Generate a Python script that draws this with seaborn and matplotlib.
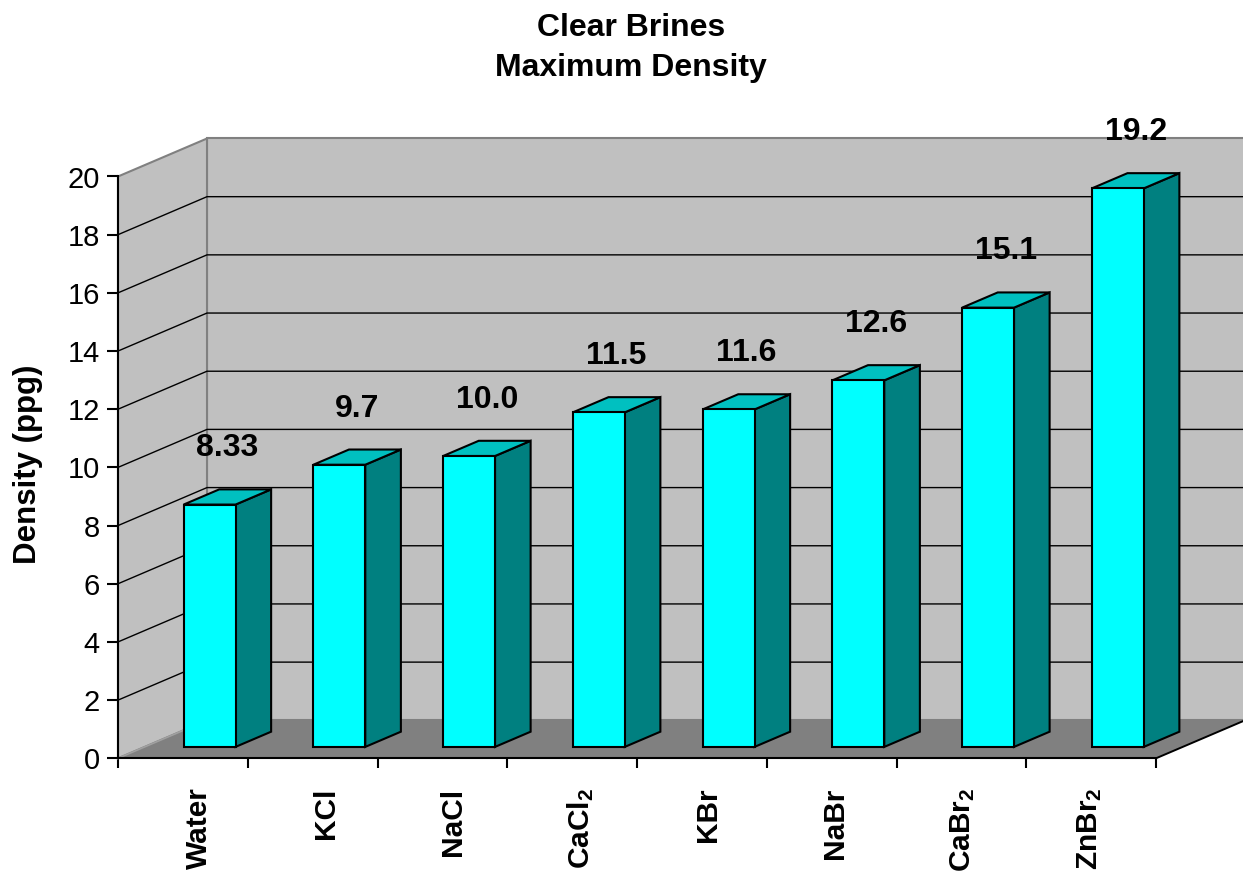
import numpy as np
import pandas as pd
import matplotlib
matplotlib.use("Agg")
import matplotlib.pyplot as plt
from matplotlib.patches import Polygon
from matplotlib.transforms import Affine2D
import seaborn as sns

# ---- data ----
categories = ["Water", "KCl", "NaCl", "CaCl$_2$", "KBr", "NaBr", "CaBr$_2$", "ZnBr$_2$"]
densities = [8.33, 9.7, 10.0, 11.5, 11.6, 12.6, 15.1, 19.2]
y_ticks = [0, 2, 4, 6, 8, 10, 12, 14, 16, 18, 20]
title_lines = ["Clear Brines", "Maximum Density"]
y_label = "Density (ppg)"

sns.set_theme(style="white")
plt.rcParams["font.family"] = ["Liberation Sans", "DejaVu Sans"]
plt.rcParams["mathtext.fontset"] = "custom"
plt.rcParams["mathtext.rm"] = "Liberation Sans:bold"
plt.rcParams["mathtext.default"] = "rm"
plt.rcParams["text.color"] = "black"
plt.rcParams["axes.labelcolor"] = "black"

W, H = 1243, 871
fig = plt.figure(figsize=(W / 100, H / 100), dpi=100)
fig.patch.set_facecolor("white")

# front plane of the 3-D box (pixels)
px0, px1 = 118, 1156
py0, py1 = 758.3, 176.5
ax = fig.add_axes([px0 / W, 1 - py0 / H, (px1 - px0) / W, (py0 - py1) / H])
ax.set_facecolor("none")

n = len(categories)
ymax = y_ticks[-1]
# depth vector of the box expressed in data units
DX = 89 / ((px1 - px0) / n)
DY = 38 / ((py0 - py1) / ymax)
F0, F1 = 0.3, 0.7  # bar depth range as fraction of box depth

WALL = "#C0C0C0"
FLOOR = "#808080"
EDGE = "#808080"

# bars (front faces) through seaborn
df = pd.DataFrame({"brine": categories, "density": densities})
sns.barplot(data=df, x="brine", y="density", color="#00FFFF", saturation=1,
            width=0.4, edgecolor="black", linewidth=1.5, ax=ax, zorder=3)
bars = list(ax.patches)

ax.set_xlim(-0.5, n - 0.5)
ax.set_ylim(0, ymax)
ax.set_xlabel("")
ax.set_ylabel("")

lo, hi = -0.5, n - 0.5

# back wall, left wall, floor
back = Polygon([(lo + DX, DY), (hi + DX, DY), (hi + DX, ymax + DY), (lo + DX, ymax + DY)],
               closed=True, fc=WALL, ec=EDGE, lw=1.5, zorder=0.5, clip_on=False)
left = Polygon([(lo, 0), (lo + DX, DY), (lo + DX, ymax + DY), (lo, ymax)],
               closed=True, fc=WALL, ec=EDGE, lw=1.5, zorder=0.6, clip_on=False)
floor = Polygon([(lo, 0), (hi, 0), (hi + DX, DY), (lo + DX, DY)],
                closed=True, fc=FLOOR, ec="none", lw=0, zorder=0.9, clip_on=False)
for p in (back, left, floor):
    ax.add_patch(p)
# left edge of the floor
ax.plot([lo, lo + DX], [0, DY], color="#A0A0A0", lw=1.2, zorder=0.95, clip_on=False)

# gridlines on left and back walls
for v in y_ticks[1:-1]:
    ax.plot([lo, lo + DX, hi + DX], [v, v + DY, v + DY], color="black", lw=1.0,
            zorder=0.8, clip_on=False, solid_joinstyle="miter")

# floor right edge
ax.plot([hi, hi + DX], [0, DY], color="black", lw=1.4, zorder=1, clip_on=False)

# 3-D faces for each bar
shift = Affine2D().translate(F0 * DX, F0 * DY) + ax.transData
for bar, val in zip(bars, densities):
    x = bar.get_x()
    w = bar.get_width()
    h = bar.get_height()
    xr = x + w
    bar.set_transform(shift)
    bar.set_clip_on(False)
    bar.set_joinstyle("miter")
    side = Polygon([(xr + F0 * DX, F0 * DY), (xr + F1 * DX, F1 * DY),
                    (xr + F1 * DX, h + F1 * DY), (xr + F0 * DX, h + F0 * DY)],
                   closed=True, fc="#008080", ec="black", lw=1.5, zorder=2.9,
                   clip_on=False, joinstyle="miter")
    top = Polygon([(x + F0 * DX, h + F0 * DY), (xr + F0 * DX, h + F0 * DY),
                   (xr + F1 * DX, h + F1 * DY), (x + F1 * DX, h + F1 * DY)],
                  closed=True, fc="#00C0C0", ec="black", lw=1.5, zorder=2.9,
                  clip_on=False, joinstyle="miter")
    ax.add_patch(side)
    ax.add_patch(top)
    label = f"{val:.1f}" if round(val, 1) == val else f"{val:.2f}"
    ax.annotate(label, xy=(x + w / 2 + 0.5 * DX, h + 0.5 * DY), xytext=(0, 35),
                textcoords="offset points", ha="center", va="center",
                fontsize=23, fontweight="bold", color="black", zorder=5,
                annotation_clip=False)

# axes lines and ticks
for s in ("top", "right"):
    ax.spines[s].set_visible(False)
for s in ("left", "bottom"):
    ax.spines[s].set_visible(True)
    ax.spines[s].set_color("black")
    ax.spines[s].set_linewidth(1.5)
    ax.spines[s].set_zorder(4)

ax.set_yticks(y_ticks)
ax.set_yticklabels([str(t) for t in y_ticks])
ax.tick_params(axis="y", left=True, direction="out", length=8, width=1.5,
               pad=5, labelsize=21, color="black", labelcolor="black")
ax.set_xticks(np.arange(lo, hi + 0.01, 1.0))
ax.set_xticklabels([])
ax.tick_params(axis="x", bottom=True, direction="out", length=7.5, width=1.5,
               color="black")

# category labels below the floor
for i, cat in enumerate(categories):
    nudge = (16 - 2.5 * i) * 0.72
    ax.annotate(cat, xy=(i, 0), xytext=(nudge, -21), textcoords="offset points",
                rotation=90, ha="center", va="top", fontsize=21.5,
                fontweight="bold", color="black", annotation_clip=False)

# titles
fig.text(631 / W, 1 - 28 / H, title_lines[0], ha="center", va="center",
         fontsize=23, fontweight="bold", color="black")
fig.text(631 / W, 1 - 68 / H, title_lines[1], ha="center", va="center",
         fontsize=23, fontweight="bold", color="black")
fig.text(28 / W, 1 - 464 / H, y_label, ha="center", va="center", rotation=90,
         fontsize=22.5, fontweight="bold", color="black")

fig.savefig("out.png", dpi=100, facecolor="white")
